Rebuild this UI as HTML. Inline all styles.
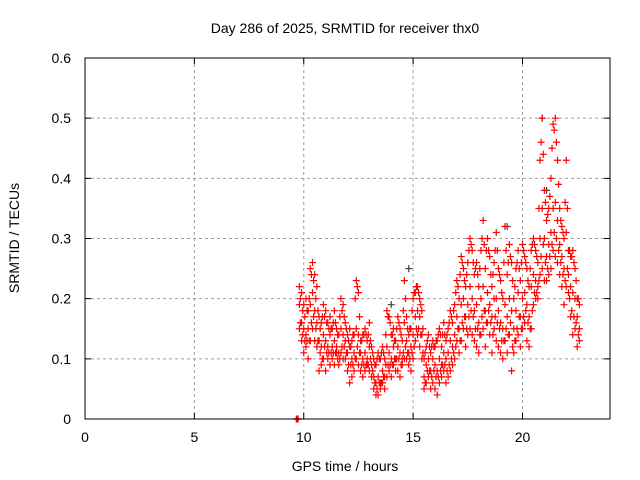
<!DOCTYPE html>
<html><head><meta charset="utf-8"><style>
html,body{margin:0;padding:0;background:#fff}
svg{display:block;font-family:"Liberation Sans",sans-serif}
</style></head><body>
<svg id="chart" width="640" height="480" viewBox="0 0 640 480">
<rect width="640" height="480" fill="#fff"/>
<text x="345" y="33" font-size="14" text-anchor="middle">Day 286 of 2025, SRMTID for receiver thx0</text>
<text x="345" y="471" font-size="14" text-anchor="middle">GPS time / hours</text>
<text transform="translate(19,238) rotate(-90)" font-size="14" text-anchor="middle">SRMTID / TECUs</text>
<g id="grid"></g>
<g id="axes"></g>
<g id="marks"></g>
<rect x="85" y="58" width="525" height="361" fill="none" stroke="#000" stroke-width="1"/>
</svg>
<script>
const xTicks=[0,5,10,15,20];
const xTickLabels=["0","5","10","15","20"];
const yTicks=[0,0.1,0.2,0.3,0.4,0.5,0.6];
const yTickLabels=["0","0.1","0.2","0.3","0.4","0.5","0.6"];
const times=[9.8,9.9,10.0,10.1,10.2,10.3,10.4,10.5,10.6,10.7,10.8,10.9,11.0,11.1,11.2,11.3,11.4,11.5,11.6,11.7,11.8,11.9,12.0,12.1,12.2,12.3,12.4,12.5,12.6,12.7,12.8,12.9,13.0,13.1,13.2,13.3,13.4,13.5,13.6,13.7,13.8,13.9,14.0,14.1,14.2,14.3,14.4,14.5,14.6,14.7,14.8,14.9,15.0,15.1,15.2,15.3,15.4,15.5,15.6,15.7,15.8,15.9,16.0,16.1,16.2,16.3,16.4,16.5,16.6,16.7,16.8,16.9,17.0,17.1,17.2,17.3,17.4,17.5,17.6,17.7,17.8,17.9,18.0,18.1,18.2,18.3,18.4,18.5,18.6,18.7,18.8,18.9,19.0,19.1,19.2,19.3,19.4,19.5,19.6,19.7,19.8,19.9,20.0,20.1,20.2,20.3,20.4,20.5,20.6,20.7,20.8,20.9,21.0,21.1,21.2,21.3,21.4,21.5,21.6,21.7,21.8,21.9,22.0,22.1,22.2,22.3,22.4,22.5,22.6];
const valuesHigh=[.22,.21,.19,.2,.18,.25,.26,.24,.22,.17,.16,.19,.18,.16,.17,.15,.18,.15,.14,.2,.19,.16,.14,.15,.13,.14,.23,.21,.13,.14,.15,.13,.16,.12,.1,.09,.11,.1,.12,.1,.18,.17,.14,.15,.13,.17,.15,.13,.23,.17,.14,.15,.2,.21,.22,.2,.18,.1,.12,.14,.11,.13,.12,.13,.15,.12,.16,.13,.15,.18,.16,.19,.23,.2,.27,.25,.22,.26,.3,.28,.24,.26,.22,.28,.33,.25,.3,.27,.22,.26,.31,.25,.23,.2,.32,.24,.29,.26,.2,.25,.28,.23,.29,.27,.25,.22,.28,.3,.28,.26,.43,.5,.38,.33,.35,.4,.49,.5,.43,.35,.32,.3,.43,.28,.27,.28,.25,.2,.19];
const valuesMid=[.19,.16,.15,.14,.15,.19,.21,.18,.16,.13,.12,.14,.13,.12,.14,.12,.13,.12,.11,.15,.14,.13,.11,.12,.1,.11,.15,.14,.11,.1,.11,.1,.12,.09,.07,.06,.07,.06,.08,.07,.12,.11,.1,.12,.1,.12,.11,.1,.16,.13,.11,.12,.14,.17,.18,.17,.14,.07,.09,.1,.08,.1,.09,.08,.1,.09,.11,.1,.11,.13,.12,.14,.17,.15,.19,.2,.17,.19,.22,.2,.18,.19,.16,.2,.22,.18,.21,.19,.17,.2,.2,.18,.16,.15,.19,.17,.2,.18,.15,.18,.21,.17,.2,.21,.19,.17,.22,.24,.23,.22,.3,.35,.3,.27,.29,.31,.35,.36,.33,.29,.27,.25,.31,.24,.22,.21,.2,.17,.15];
const valuesLow=[.15,.13,.11,.12,.1,.13,.15,.13,.12,.08,.09,.1,.08,.1,.09,.1,.09,.11,.09,.11,.1,.1,.08,.06,.07,.08,.1,.09,.08,.07,.08,.09,.08,.07,.05,.04,.04,.05,.06,.05,.07,.08,.07,.09,.08,.08,.07,.09,.1,.1,.09,.08,.1,.13,.14,.12,.1,.05,.06,.07,.05,.06,.05,.04,.06,.07,.08,.06,.07,.08,.09,.1,.13,.11,.13,.15,.12,.14,.15,.14,.13,.12,.11,.14,.15,.12,.16,.14,.11,.15,.13,.12,.11,.1,.13,.11,.14,.08,.11,.13,.14,.12,.15,.16,.13,.12,.15,.19,.2,.2,.24,.25,.23,.23,.24,.25,.28,.27,.26,.24,.22,.19,.22,.21,.17,.14,.15,.12,.13];
const times2=[9.85,9.95,10.05,10.15,10.25,10.35,10.45,10.55,10.65,10.75,10.85,10.95,11.05,11.15,11.25,11.35,11.45,11.55,11.65,11.75,11.85,11.95,12.05,12.15,12.25,12.35,12.45,12.55,12.65,12.75,12.85,12.95,13.05,13.15,13.25,13.35,13.45,13.55,13.65,13.75,13.85,13.95,14.05,14.15,14.25,14.35,14.45,14.55,14.65,14.75,14.85,14.95,15.05,15.15,15.25,15.35,15.45,15.55,15.65,15.75,15.85,15.95,16.05,16.15,16.25,16.35,16.45,16.55,16.65,16.75,16.85,16.95,17.05,17.15,17.25,17.35,17.45,17.55,17.65,17.75,17.85,17.95,18.05,18.15,18.25,18.35,18.45,18.55,18.65,18.75,18.85,18.95,19.05,19.15,19.25,19.35,19.45,19.55,19.65,19.75,19.85,19.95,20.05,20.15,20.25,20.35,20.45,20.55,20.65,20.75,20.85,20.95,21.05,21.15,21.25,21.35,21.45,21.55,21.65,21.75,21.85,21.95,22.05,22.15,22.25,22.35,22.45,22.55];
const valuesHigh2=[.2,.18,.17,.18,.2,.24,.23,.2,.18,.15,.17,.17,.16,.15,.15,.16,.16,.14,.17,.18,.17,.15,.13,.12,.14,.2,.22,.17,.13,.14,.14,.14,.13,.11,.09,.1,.1,.11,.11,.14,.17,.16,.14,.13,.15,.16,.14,.18,.2,.15,.15,.18,.21,.22,.21,.19,.15,.11,.13,.12,.12,.12,.13,.14,.14,.14,.14,.14,.16,.17,.18,.21,.22,.24,.26,.23,.24,.28,.29,.26,.25,.24,.25,.3,.29,.28,.28,.24,.24,.28,.28,.24,.21,.26,.28,.26,.27,.23,.22,.26,.25,.26,.28,.26,.23,.25,.29,.29,.27,.35,.46,.44,.36,.34,.37,.45,.48,.46,.39,.33,.31,.36,.35,.28,.27,.26,.23,.2];
const valuesLow2=[.16,.14,.13,.13,.13,.16,.17,.15,.13,.11,.1,.12,.11,.11,.11,.11,.11,.1,.1,.12,.12,.11,.09,.09,.09,.1,.12,.11,.09,.09,.09,.09,.1,.08,.06,.05,.06,.06,.07,.09,.09,.09,.09,.1,.1,.1,.09,.11,.12,.11,.1,.11,.12,.15,.15,.14,.11,.06,.08,.08,.07,.08,.07,.07,.08,.09,.09,.08,.09,.1,.11,.12,.15,.13,.16,.17,.15,.17,.18,.17,.15,.15,.14,.17,.18,.16,.18,.16,.14,.17,.16,.15,.13,.13,.15,.14,.16,.12,.13,.15,.17,.15,.17,.18,.16,.15,.18,.21,.21,.23,.27,.29,.26,.25,.27,.29,.31,.3,.28,.26,.24,.23,.25,.2,.18,.17,.16,.14];
const zeroTimes=[9.66,9.7,9.74];
const zeroValues=[0,0,0];
const grayTimes=[14.0,14.8,20.9,21.1,19.3];
const grayValues=[.19,.25,.5,.38,.32];

const NS="http://www.w3.org/2000/svg";
const L=85,R=610,T=58,B=419,XMAX=24,YMAX=0.6;
function xs(v){return L+(R-L)*v/XMAX;}
function ys(v){return B-(B-T)*v/YMAX;}
const grid=document.getElementById('grid'),axes=document.getElementById('axes'),marks=document.getElementById('marks');
function mk(tag,attrs,parent){const e=document.createElementNS(NS,tag);for(const k in attrs)e.setAttribute(k,attrs[k]);parent.appendChild(e);return e;}
xTicks.forEach((t,i)=>{const x=xs(t);
 if(t>0){const g=mk('line',{x1:x,x2:x,y1:T,y2:B,stroke:'#a0a0a0','stroke-dasharray':'3,3','stroke-width':1},grid);
 
 }
 const tk=mk('path',{d:`M${x},${B}v-6M${x},${T}v6`,stroke:'#000'},axes);
 
 
 const lb=mk('text',{x:x,y:442,'font-size':14,'text-anchor':'middle'},axes);lb.textContent=xTickLabels[i];
 
 
});
yTicks.forEach((t,i)=>{const y=ys(t);
 if(t>0&&t<YMAX){const g=mk('line',{x1:L,x2:R,y1:y,y2:y,stroke:'#a0a0a0','stroke-dasharray':'3,3','stroke-width':1},grid);
 
 }
 const tk=mk('path',{d:`M${L},${y}h6M${R},${y}h-6`,stroke:'#000'},axes);
 
 
 const lb=mk('text',{x:71,y:y+5,'font-size':14,'text-anchor':'end'},axes);lb.textContent=yTickLabels[i];
 
 
});
function cross(t,v,color,name){const x=xs(t),y=ys(v);
 const p=mk('path',{d:`M${x-3.5},${y}h7M${x},${y-3.5}v7`,stroke:color,'stroke-width':1.2,fill:'none'},marks);
 
 }
grayTimes.forEach((t,i)=>cross(t,grayValues[i],'#404040','gray-point'));
times.forEach((t,i)=>{cross(t,valuesHigh[i],'#ff0000','srmtid-point');cross(t,valuesMid[i],'#ff0000','srmtid-point');cross(t,valuesLow[i],'#ff0000','srmtid-point');});
times2.forEach((t,i)=>{cross(t,valuesHigh2[i],'#ff0000','srmtid-point');cross(t,valuesLow2[i],'#ff0000','srmtid-point');});
zeroTimes.forEach((t,i)=>cross(t,zeroValues[i],'#ff0000','srmtid-zero-point'));
</script>
</body></html>
